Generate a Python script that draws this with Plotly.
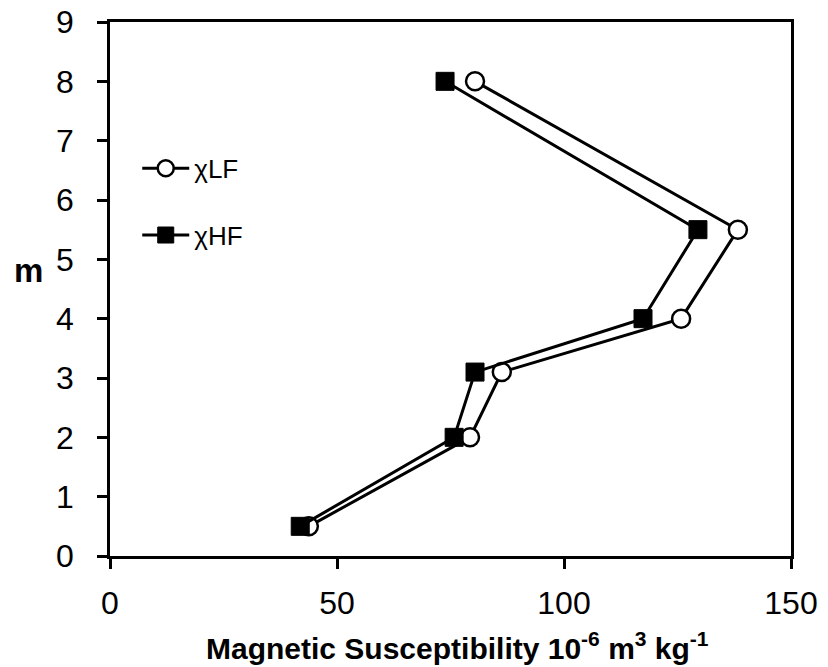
import plotly.graph_objects as go

# Data
depth = [0.5, 2, 3.1, 4, 5.5, 8]
chi_lf = [43.8, 79.3, 86.3, 125.8, 138.3, 80.4]
chi_hf = [41.9, 75.8, 80.4, 117.4, 129.5, 73.8]
x_ticks = [0, 50, 100, 150]
y_ticks = list(range(0, 10))

FONT = "Liberation Sans, Arial, sans-serif"

fig = go.Figure()
fig.add_trace(go.Scatter(
    x=chi_lf, y=depth, mode="lines+markers", name="χLF",
    legendgroup="lf",
    line=dict(color="black", width=3),
    marker=dict(symbol="circle", size=18, color="white",
                line=dict(color="black", width=2.5)),
))
fig.add_trace(go.Scatter(
    x=chi_hf, y=depth, mode="lines+markers", name="χHF",
    legendgroup="hf",
    line=dict(color="black", width=3),
    marker=dict(symbol="square", size=18, color="black",
                line=dict(color="black", width=1)),
))

fig.update_layout(
    width=828, height=667,
    margin=dict(l=110, r=37, t=22, b=111, pad=0),
    paper_bgcolor="white", plot_bgcolor="white",
    font=dict(family=FONT, color="black"),
    showlegend=True,
    legend=dict(x=0.04, y=0.77, xanchor="left", yanchor="top",
                font=dict(size=26, family=FONT, color="black"),
                bgcolor="rgba(0,0,0,0)", tracegroupgap=30,
                itemwidth=47, traceorder="grouped"),
    xaxis=dict(range=[0, 150], tickvals=x_ticks, ticks="outside",
               ticklen=10, tickwidth=2.5, tickcolor="black",
               showline=True, linecolor="black", linewidth=2.5, mirror=True,
               showgrid=False, zeroline=False, automargin=False,
               tickfont=dict(size=32, family=FONT),
               ticklabeloverflow="allow",
               ticklabelstandoff=7),
    yaxis=dict(range=[0, 9], tickvals=y_ticks, ticks="outside",
               ticklen=10, tickwidth=2.5, tickcolor="black",
               showline=True, linecolor="black", linewidth=2.5, mirror=True,
               showgrid=False, zeroline=False, automargin=False,
               tickfont=dict(size=32, family=FONT),
               ticklabeloverflow="allow",
               ticklabelstandoff=17),
    annotations=[
        dict(text="<b>m</b>", xref="paper", yref="paper",
             x=(28 - 110) / 681, y=(556 - 270) / 534, showarrow=False,
             xanchor="center", yanchor="middle",
             font=dict(size=33, family=FONT, color="black")),
        dict(text="<b>Magnetic Susceptibility 10<sup>-6</sup> m<sup>3</sup> kg<sup>-1</sup></b>",
             xref="paper", yref="paper",
             x=(457 - 110) / 681, y=(556 - 646) / 534, showarrow=False,
             xanchor="center", yanchor="middle",
             font=dict(size=30, family=FONT, color="black")),
    ],
)

fig.write_html(
    "out.html",
    config={"displayModeBar": False},
    post_script="document.body.style.margin='0px';document.body.style.padding='0px';document.body.style.overflow='hidden';",
)
